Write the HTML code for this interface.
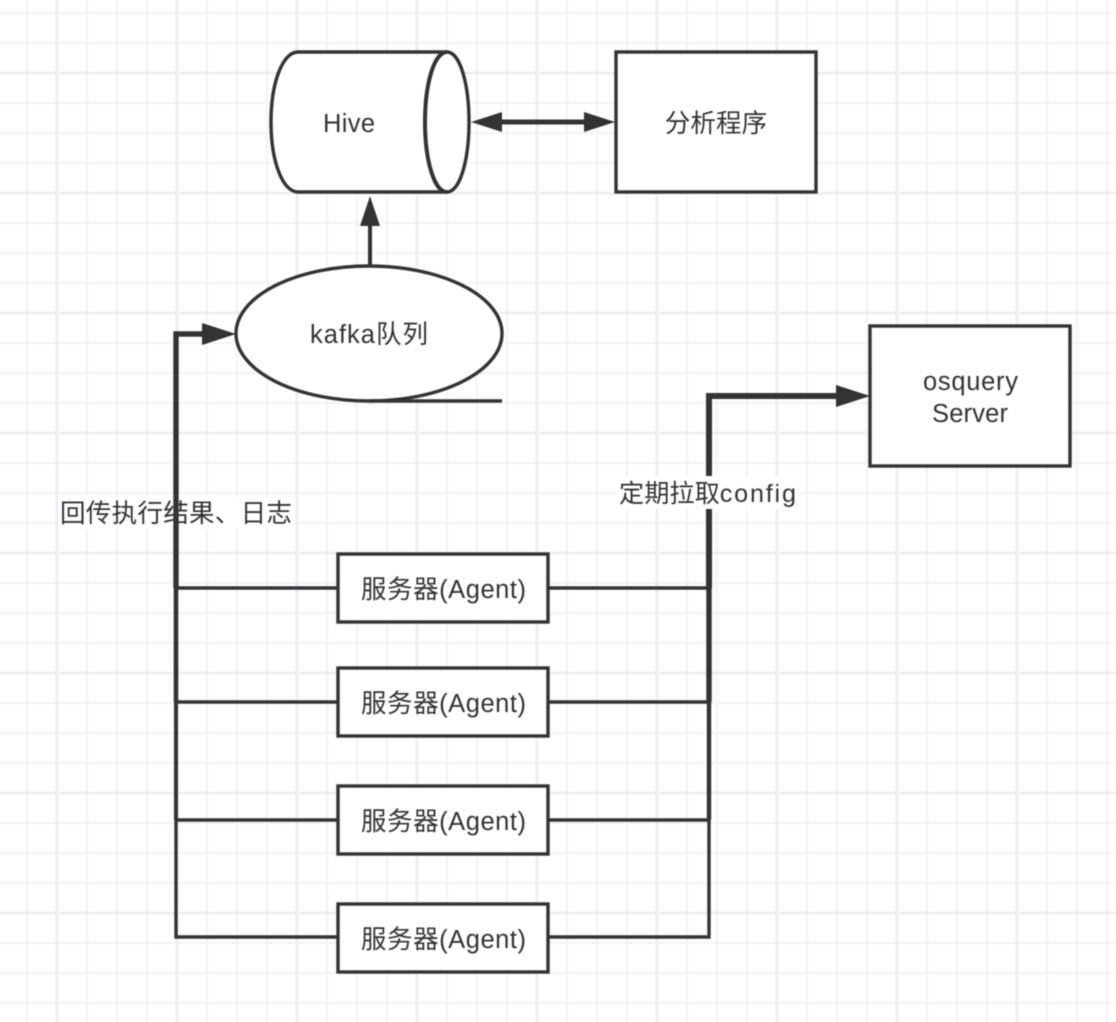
<!DOCTYPE html>
<html>
<head>
<meta charset="utf-8">
<style>
html,body{margin:0;padding:0;background:#fff;}
svg{display:block;filter:blur(0.4px);}
text{font-family:"Liberation Sans","Noto Sans CJK SC",sans-serif;fill:#333;}
.c{text-anchor:middle;}
</style>
</head>
<body>
<svg width="1116" height="1022" viewBox="0 0 1116 1022" xmlns="http://www.w3.org/2000/svg">
<defs>
<pattern id="minor" x="25" y="11" width="30" height="30" patternUnits="userSpaceOnUse">
<path d="M2 0V30M0 2H30" stroke="#f5f5f8" stroke-width="2.6" fill="none"/>
</pattern>
<pattern id="major" x="55" y="71" width="120" height="120" patternUnits="userSpaceOnUse">
<path d="M2 0V120M0 2H120" stroke="#eeeef3" stroke-width="2.8" fill="none"/>
</pattern>
</defs>
<rect width="1116" height="1022" fill="#fff"/>
<rect width="1116" height="1022" fill="url(#minor)"/>
<rect width="1116" height="1022" fill="url(#major)"/>

<!-- label under left trunk -->
<rect x="59" y="497" width="235" height="32" fill="#fff"/>
<text x="60" y="522" font-size="25.6" textLength="232" lengthAdjust="spacing">回传执行结果、日志</text>

<!-- left trunk -->
<g fill="none" stroke="#333" stroke-linejoin="miter">
<path d="M176 820V937H338" stroke-width="3.4"/>
<path d="M176 702V820" stroke-width="4"/>
<path d="M176 588V702" stroke-width="4.6"/>
<path d="M204 334H176V588" stroke-width="5.4"/>
<path d="M176 588H338M176 702H338M176 820H338" stroke-width="3.4"/>
<!-- right trunk -->
<path d="M709 820V937H549" stroke-width="3.4"/>
<path d="M709 702V820" stroke-width="4.4"/>
<path d="M709 588V702" stroke-width="5.4"/>
<path d="M838 396H709V588" stroke-width="6"/>
<path d="M549 588H709M549 702H709M549 820H709" stroke-width="3.4"/>
<path d="M370 266V224" stroke-width="4"/>
<path d="M498 122H588" stroke-width="5"/>
</g>
<g fill="#333">
<polygon points="236,334 202,323 202,345"/>
<polygon points="870,396 836,385 836,407"/>
<polygon points="370,196 360,226 380,226"/>
<polygon points="471,122 502,112 502,132"/>
<polygon points="615,122 584,112 584,132"/>
</g>

<!-- Hive -->
<path d="M298 52H447C460 52 469 84 469 122S460 192 447 192H298C282 192 271 160 271 122S282 52 298 52Z" fill="#fff" stroke="#333" stroke-width="3.4"/>
<path d="M447 52C434 52 425 84 425 122S434 192 447 192" fill="none" stroke="#333" stroke-width="4"/>
<text x="323" y="132" font-size="25.5" textLength="52" lengthAdjust="spacing">Hive</text>

<!-- analysis -->
<rect x="616" y="52" width="200" height="140" fill="#fff" stroke="#333" stroke-width="3.4"/>
<text x="716" y="132" font-size="25.6" class="c">分析程序</text>

<!-- kafka -->
<ellipse cx="369" cy="333.5" rx="133" ry="67.5" fill="#fff" stroke="#333" stroke-width="3.4"/>
<path d="M369 401H502" stroke="#333" stroke-width="3.4" fill="none"/>
<text x="310" y="343" font-size="25.5" textLength="118" lengthAdjust="spacing">kafka队列</text>

<!-- osquery -->
<rect x="870" y="326" width="200" height="140" fill="#fff" stroke="#333" stroke-width="3.4"/>
<text x="923" y="390" font-size="25.5" textLength="95" lengthAdjust="spacing">osquery</text>
<text x="932" y="422" font-size="25.5" textLength="76" lengthAdjust="spacing">Server</text>

<!-- config label -->
<rect x="618" y="476" width="182" height="33" fill="#fff"/>
<text x="619" y="502" font-size="25.2">定期拉取<tspan letter-spacing="1.8">config</tspan></text>

<!-- agents -->
<g fill="#fff" stroke="#333" stroke-width="3.4">
<rect x="338" y="554" width="210" height="68"/>
<rect x="338" y="668" width="210" height="68"/>
<rect x="338" y="786" width="210" height="68"/>
<rect x="338" y="904" width="210" height="68"/>
</g>
<g font-size="25.5">
<text x="361" y="598" textLength="165" lengthAdjust="spacing">服务器(Agent)</text>
<text x="361" y="712" textLength="165" lengthAdjust="spacing">服务器(Agent)</text>
<text x="361" y="830" textLength="165" lengthAdjust="spacing">服务器(Agent)</text>
<text x="361" y="948" textLength="165" lengthAdjust="spacing">服务器(Agent)</text>
</g>
</svg>
</body>
</html>
